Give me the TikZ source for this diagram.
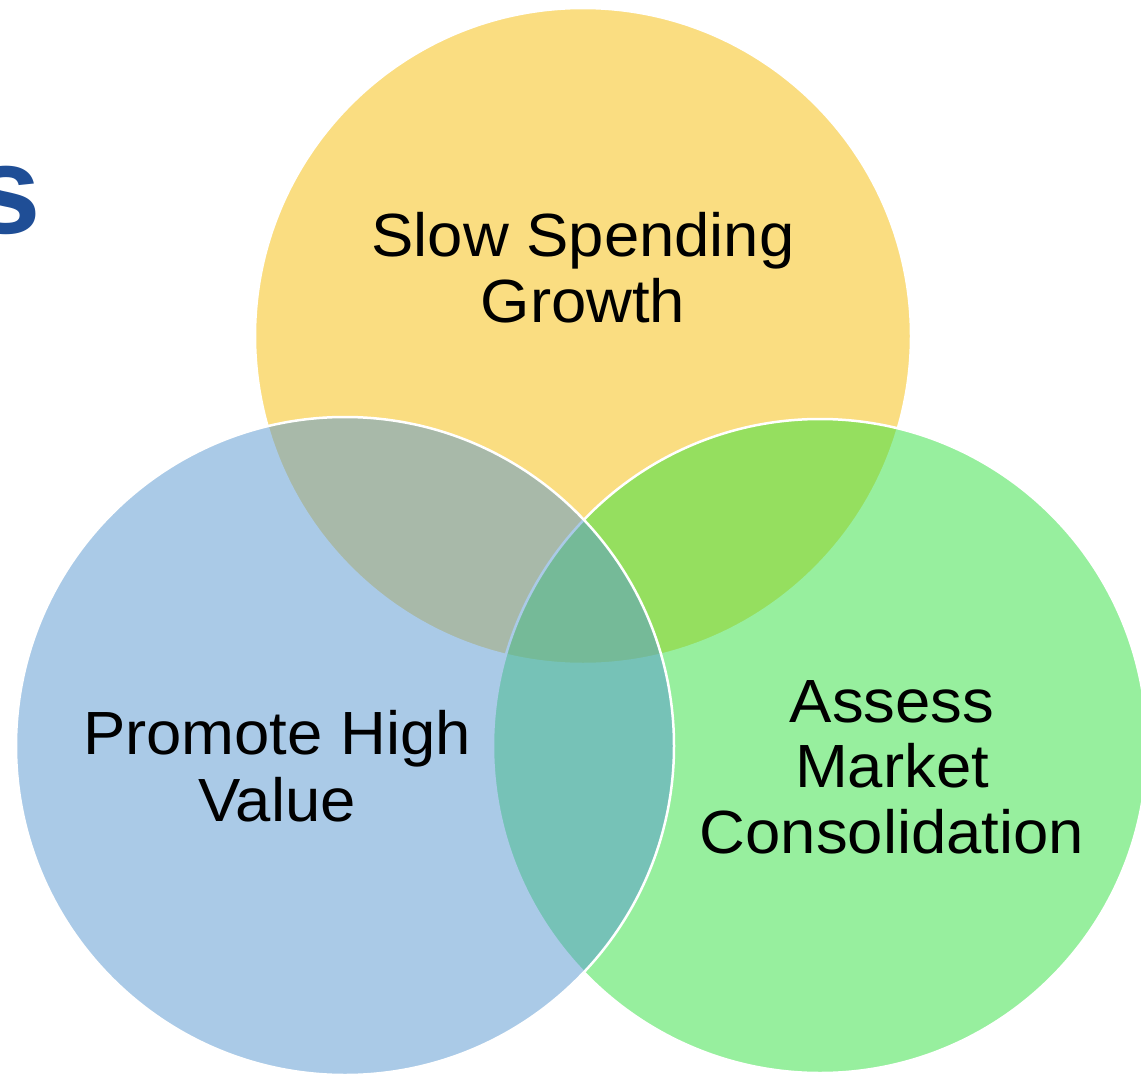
\documentclass[tikz,border=0pt]{standalone}
\usepackage{fontspec}
\setmainfont{Liberation Sans}
\newfontfamily\labfont[FakeStretch=1.04]{Liberation Sans}
\definecolor{cyel}{RGB}{247,189,5}
\definecolor{cgrn}{RGB}{49,225,63}
\definecolor{cblu}{RGB}{87,151,209}
\definecolor{ctitle}{RGB}{31,78,150}
\begin{document}
\begin{tikzpicture}[x=1pt,y=-1pt,
  venn/.style={fill opacity=0.5, draw=white, draw opacity=1, line width=2.5pt},
  lab/.style={anchor=base, inner sep=0pt, text=black, font=\labfont\fontsize{61}{66}\selectfont}]
\useasboundingbox[fill=white] (0,0) rectangle (1141,1076);
\path[venn, fill=cyel] (583,336) circle[radius=328pt];
\path[venn, fill=cgrn] (820,746) circle[radius=327pt];
\path[venn, fill=cblu] (345,746) circle[radius=329pt];
\node[anchor=base east, inner sep=0pt, text=ctitle, font=\bfseries\fontsize{125}{130}\selectfont] (title) at (41,233) {s};
\node[lab] (slow1) at (583,256) {Slow Spending};
\node[lab] (slow2) at (583,322) {Growth};
\node[lab] (prom1) at (277,754) {Promote High};
\node[lab] (prom2) at (277,821) {Value};
\node[lab] (ass1) at (892,722) {Assess};
\node[lab] (ass2) at (892,787) {Market};
\node[lab] (ass3) at (892,853) {Consolidation};
\end{tikzpicture}
\end{document}
